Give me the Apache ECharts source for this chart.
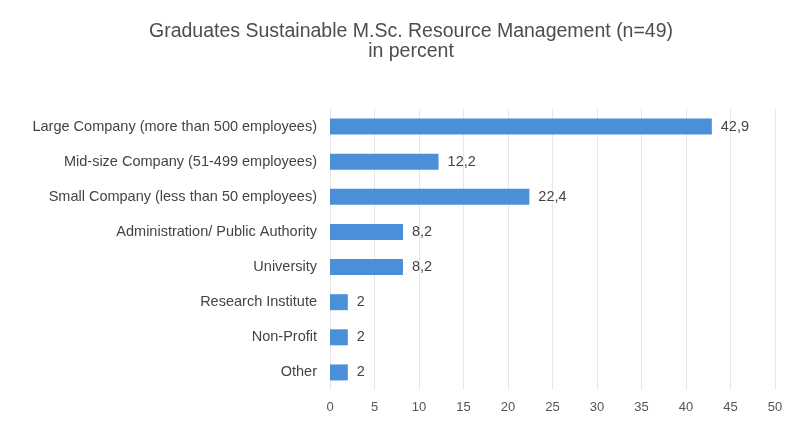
<!DOCTYPE html>
<html>
<head>
<meta charset="utf-8">
<script src="https://cdn.jsdelivr.net/npm/echarts@6/dist/echarts.min.js"></script>
<style>
  html, body { margin: 0; padding: 0; background: #fff; }
  #chart { width: 790px; height: 422px; }
</style>
</head>
<body>
<div id="chart"></div>
<script>
var categories = [
    'Large Company (more than 500 employees)',
    'Mid-size Company (51-499 employees)',
    'Small Company (less than 50 employees)',
    'Administration/ Public Authority',
    'University',
    'Research Institute',
    'Non-Profit',
    'Other'
];
var values = [42.9, 12.2, 22.4, 8.2, 8.2, 2, 2, 2];

var chart = echarts.init(document.getElementById('chart'));

var option = {
    animation: false,
    textStyle: { fontFamily: 'Arial, "Liberation Sans", sans-serif' },
    title: {
        text: 'Graduates Sustainable M.Sc. Resource Management (n=49)\nin percent',
        left: 406,
        textAlign: 'center',
        top: 17,
        textStyle: {
            fontSize: 19.5,
            fontWeight: 'normal',
            color: '#4d4d4d',
            lineHeight: 20
        }
    },
    grid: {
        left: 330,
        right: 15,
        top: 109,
        bottom: 32,
        containLabel: false
    },
    xAxis: {
        type: 'value',
        min: 0,
        max: 50,
        interval: 5,
        axisLine: { show: false },
        axisTick: { show: false },
        axisLabel: { color: '#555', fontSize: 13, margin: 11 },
        splitLine: {
            show: true,
            lineStyle: { color: '#e6e6e6', width: 1 }
        }
    },
    yAxis: {
        type: 'category',
        data: categories,
        inverse: true,
        axisLine: { show: false },
        axisTick: { show: false },
        axisLabel: { color: '#444', fontSize: 14.5, margin: 13 }
    },
    series: [
        {
            name: 'in percent',
            type: 'bar',
            data: values,
            barWidth: 16,
            itemStyle: { color: '#4a8fd8' },
            label: {
                show: true,
                position: 'right',
                distance: 9,
                color: '#444',
                fontSize: 14.5,
                formatter: function (p) {
                    return String(p.value).replace('.', ',');
                }
            }
        }
    ]
};

chart.setOption(option);

window.onresize = function () {
    chart.resize();
};
</script>
</body>
</html>
